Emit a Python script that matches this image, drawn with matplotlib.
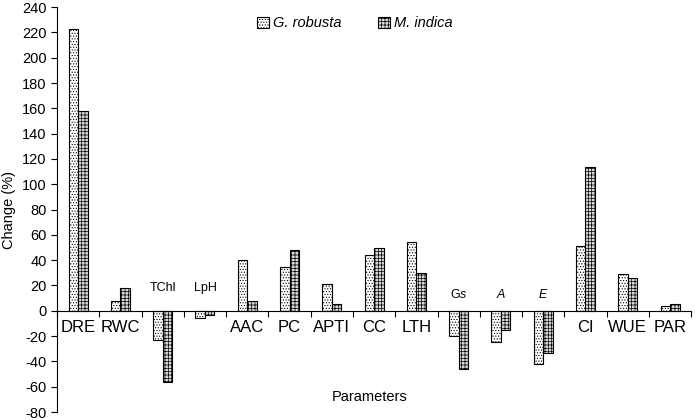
import matplotlib
matplotlib.use('Agg')
import matplotlib.pyplot as plt
import numpy as np

plt.rcParams['font.family'] = ['Liberation Sans', 'DejaVu Sans']
plt.rcParams['axes.unicode_minus'] = False
plt.rcParams['mathtext.fontset'] = 'custom'
plt.rcParams['mathtext.rm'] = 'Liberation Sans'
plt.rcParams['mathtext.it'] = 'Liberation Sans:italic'
plt.rcParams['hatch.linewidth'] = 0.5

# Data
categories = ['DRE', 'RWC', 'TChl', 'LpH', 'AAC', 'PC', 'APTI', 'CC', 'LTH',
              'Gs', 'A', 'E', 'CI', 'WUE', 'PAR']
robusta = [223, 8, -23, -6, 40, 35, 21, 44, 54, -20, -25, -42, 51, 29, 4]
indica = [158, 18, -56, -3, 8, 48, 5, 50, 30, -46, -15, -33, 114, 26, 5]
series_names = ['G. robusta', 'M. indica']

fig = plt.figure(figsize=(7, 4.2), dpi=100)
ax = fig.add_axes([0.0814, 0.019, 0.906, 0.964])

x = np.arange(len(categories))
width = 0.225

ax.bar(x - width / 2, robusta, width, color='white', edgecolor='black',
       hatch='......', linewidth=0.8, label=series_names[0])
ax.bar(x + width / 2, indica, width, color='#d8d8d8', edgecolor='black',
       hatch='+++++', linewidth=0.8, label=series_names[1])

ax.set_xlim(-0.5, len(categories) - 0.5)
ax.set_ylim(-80, 240)
ax.set_yticks(range(-80, 241, 20))
ax.tick_params(axis='y', labelsize=10.5, direction='out', length=4)

# zero line with ticks at category boundaries
ax.spines['bottom'].set_position(('data', 0))
ax.spines['top'].set_visible(False)
ax.spines['right'].set_visible(False)
ax.set_xticks(np.arange(-0.5, len(categories), 1))
ax.set_xticklabels([])
ax.tick_params(axis='x', direction='out', length=4)

# category labels
labels_display = {'Gs': r'G$\it{s}$', 'A': r'$\it{A}$', 'E': r'$\it{E}$'}
for i, cat in enumerate(categories):
    txt = labels_display.get(cat, cat)
    if min(robusta[i], indica[i]) < 0:
        y = 18 if cat in ('TChl', 'LpH') else 12.5
        ax.text(i, y, txt, ha='center', va='center', fontsize=9)
    else:
        ax.text(i, -13.5, txt, ha='center', va='center', fontsize=12)

ax.set_ylabel('Change (%)', fontsize=10.5, labelpad=4)
ax.text(6.9, -68, 'Parameters', ha='center', va='center', fontsize=10.5)

leg = ax.legend(loc='upper center', bbox_to_anchor=(0.47, 1.01), ncol=2,
                frameon=False, fontsize=10.5, handlelength=0.8, handleheight=0.8,
                columnspacing=2.5, handletextpad=0.3)
for t in leg.get_texts():
    t.set_fontstyle('italic')

plt.savefig('out.png', dpi=100)
plt.close()
